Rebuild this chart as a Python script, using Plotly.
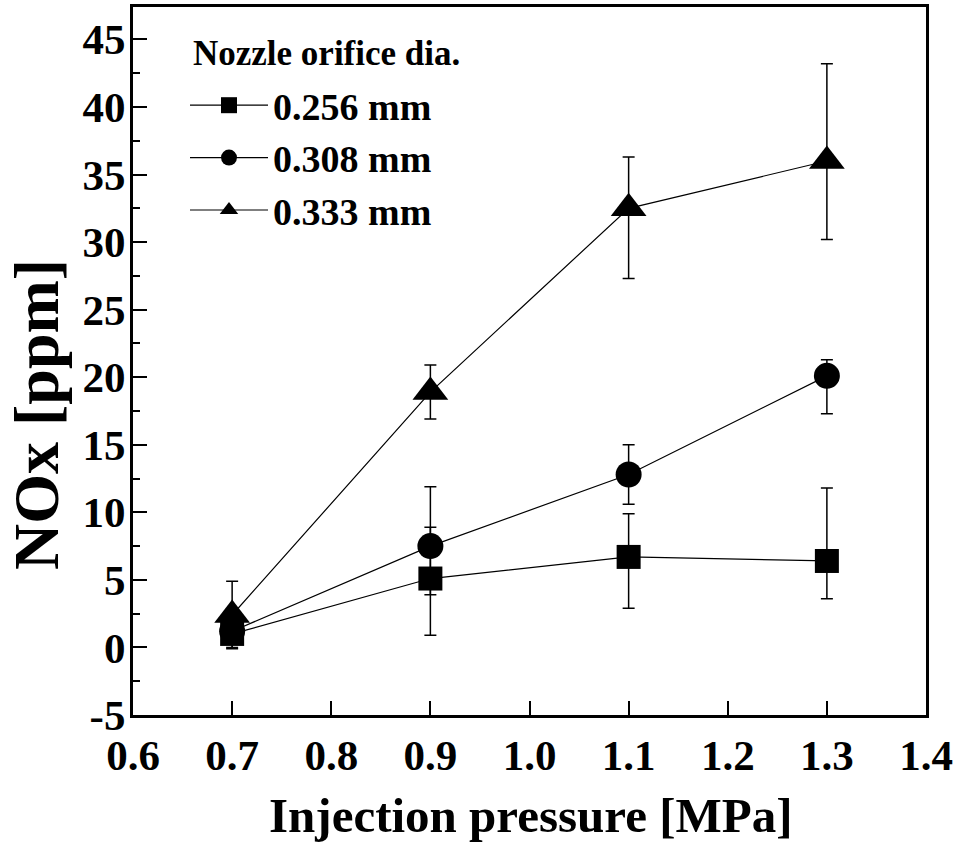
import plotly.graph_objects as go

# ---- data ----
pressure = [0.7, 0.9, 1.1, 1.3]

nox_256 = [1.0, 5.1, 6.7, 6.4]
err_256_plus = [1.0, 3.8, 3.2, 5.4]
err_256_minus = [1.0, 4.2, 3.8, 2.8]

nox_308 = [1.2, 7.5, 12.8, 20.1]
err_308_plus = [0.8, 4.4, 2.2, 1.2]
err_308_minus = [0.8, 3.6, 2.2, 2.8]

nox_333 = [2.4, 18.9, 32.5, 36.0]
err_333_plus = [2.5, 2.0, 3.8, 7.2]
err_333_minus = [2.5, 2.0, 5.2, 5.8]

series_names = ["0.256 mm", "0.308 mm", "0.333 mm"]
legend_title = "Nozzle orifice dia."
x_ticks = [0.6, 0.7, 0.8, 0.9, 1.0, 1.1, 1.2, 1.3, 1.4]
x_ticklabels = ["0.6", "0.7", "0.8", "0.9", "1.0", "1.1", "1.2", "1.3", "1.4"]
y_ticks = [-5, 0, 5, 10, 15, 20, 25, 30, 35, 40, 45]
y_ticklabels = ["-5", "0", "5", "10", "15", "20", "25", "30", "35", "40", "45"]

FONT = "Liberation Serif, Times New Roman, serif"

fig = go.Figure()

specs = [
    (nox_256, err_256_plus, err_256_minus, "square", 24),
    (nox_308, err_308_plus, err_308_minus, "circle", 26),
    (nox_333, err_333_plus, err_333_minus, "triangle-up", 31),
]
for (yv, ep, em, sym, sz), name in zip(specs, series_names):
    fig.add_trace(go.Scatter(
        x=pressure, y=yv, name=name, mode="lines+markers",
        line=dict(color="black", width=1.2),
        marker=dict(symbol=sym, size=sz, color="black"),
        error_y=dict(type="data", symmetric=False, array=ep, arrayminus=em,
                     color="black", thickness=1.5, width=6),
    ))

L, R, T, B = 133, 34, 7, 141
W, H = 960, 856
pw = W - L - R
ph = H - T - B

fig.update_layout(
    width=W, height=H,
    margin=dict(l=L, r=R, t=T, b=B, autoexpand=False),
    paper_bgcolor="white", plot_bgcolor="white",
    font=dict(family=FONT, color="black"),
    showlegend=True,
    legend=dict(
        x=(185 - L) / pw, y=(H - B - 74) / ph, xanchor="left", yanchor="top",
        bgcolor="rgba(0,0,0,0)", borderwidth=0,
        font=dict(family=FONT, size=38, color="black", weight="bold"),
        itemwidth=78,
        tracegroupgap=0,
    ),
    xaxis=dict(
        range=[0.6, 1.4], tickmode="array", tickvals=x_ticks, ticktext=x_ticklabels,
        ticks="inside", ticklen=14, tickwidth=2, tickcolor="black",
        showline=True, linewidth=3, linecolor="black", mirror=True,
        showgrid=False, zeroline=False,
        tickfont=dict(family=FONT, size=43, color="black", weight="bold"),
        ticklabelstandoff=0,
    ),
    yaxis=dict(
        range=[-5, 47.4], tickmode="array", tickvals=y_ticks, ticktext=y_ticklabels,
        ticks="inside", ticklen=14, tickwidth=2, tickcolor="black",
        minor=dict(ticks="inside", ticklen=7, tickwidth=2, tickcolor="black",
                   dtick=2.5, tick0=-5, showgrid=False),
        showline=True, linewidth=3, linecolor="black", mirror=True,
        showgrid=False, zeroline=False,
        tickfont=dict(family=FONT, size=43, color="black", weight="bold"),
        ticklabelstandoff=-4,
    ),
    annotations=[
        dict(text=legend_title, xref="paper", yref="paper",
             x=(191 - L) / pw, y=(H - B - 53) / ph, xanchor="left", yanchor="middle",
             showarrow=False,
             font=dict(family=FONT, size=35, color="black", weight="bold")),
        dict(text="Injection pressure [MPa]", xref="paper", yref="paper",
             x=(531 - L) / pw, y=(H - B - 815) / ph, xanchor="center", yanchor="middle",
             showarrow=False,
             font=dict(family=FONT, size=49, color="black", weight="bold")),
        dict(text="NOx [ppm]", xref="paper", yref="paper", textangle=-90,
             x=(36 - L) / pw, y=(H - B - 415) / ph, xanchor="center", yanchor="middle",
             showarrow=False,
             font=dict(family=FONT, size=64, color="black", weight="bold")),
    ],
)

fig.write_html("out.html")
